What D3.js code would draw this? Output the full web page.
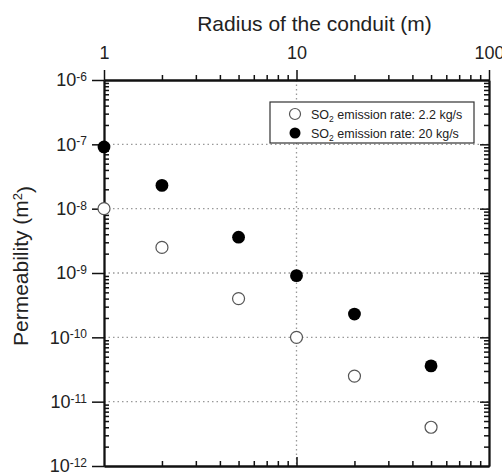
<!DOCTYPE html>
<html>
<head>
<meta charset="utf-8">
<script src="https://cdn.jsdelivr.net/npm/d3@7"></script>
<style>
	body { margin: 0; background: #fff; }
	svg { display: block; font-family: "Liberation Sans", Arial, sans-serif; }
	.domain { stroke: #111; }
</style>
</head>
<body>
<svg id="chart" width="502" height="473"></svg>
<script>
// radius of the conduit (m)
var radius = [1, 2, 5, 10, 20, 50];
// permeability (m^2) for each SO2 emission rate
var perm22 = [1e-8, 2.5e-9, 4e-10, 1e-10, 2.5e-11, 4e-12];
var perm20 = [9.1e-8, 2.3e-8, 3.6e-9, 9.1e-10, 2.3e-10, 3.6e-11];
var seriesNames = ["2.2 kg/s", "20 kg/s"];
var xMajor = [1, 10, 100];
var yMajor = [1e-12, 1e-11, 1e-10, 1e-9, 1e-8, 1e-7, 1e-6];

var svg = d3.select("#chart");
var pLeft = 104, pRight = 489, pTop = 80, pBottom = 466;

var x = d3.scaleLog().domain([1, 100]).range([pLeft, pRight]);
var y = d3.scaleLog().domain([1e-12, 1e-6]).range([pBottom, pTop]);

// minor ticks 2..9 in every decade
function minors(lo, hi) {
	var out = [];
	for (var p = lo; p < hi; p++) {
		for (var k = 2; k <= 9; k++) out.push(k * Math.pow(10, p));
	}
	return out;
}
var xMinor = minors(0, 2);
var yMinor = minors(-12, -6);

// grid
var grid = svg.append("g")
	.attr("stroke", "#999")
	.attr("stroke-width", 1.3)
	.attr("stroke-dasharray", "1.5,3");
grid.selectAll("line.h")
	.data(yMajor.slice(1, -1))
	.enter().append("line")
	.attr("x1", pLeft).attr("x2", pRight)
	.attr("y1", d => y(d)).attr("y2", d => y(d));
grid.append("line")
	.attr("x1", x(10)).attr("x2", x(10))
	.attr("y1", pTop).attr("y2", pBottom);

function styleAxis(g, w) {
	g.select(".domain").attr("stroke-width", w || 1.8);
	g.selectAll(".tick line").attr("stroke", "#111").attr("stroke-width", 1.5);
}

// top axis (labelled)
svg.append("g")
	.attr("transform", "translate(0," + pTop + ")")
	.call(d3.axisTop(x).tickValues(xMinor).tickSize(5).tickSizeOuter(0).tickFormat(""))
	.call(styleAxis);
var topMaj = svg.append("g")
	.attr("transform", "translate(0," + pTop + ")")
	.call(d3.axisTop(x).tickValues(xMajor).tickSize(10).tickSizeOuter(0).tickPadding(11)
		.tickFormat(d3.format("d")))
	.call(styleAxis);
topMaj.attr("font-size", 18).attr("font-family", null);
topMaj.selectAll("text").attr("fill", "#222");

// bottom axis (ticks inward)
svg.append("g")
	.attr("transform", "translate(0," + pBottom + ")")
	.call(d3.axisBottom(x).tickValues(xMinor).tickSize(-5).tickSizeOuter(0).tickFormat(""))
	.call(styleAxis);
svg.append("g")
	.attr("transform", "translate(0," + pBottom + ")")
	.call(d3.axisBottom(x).tickValues([10]).tickSize(-9).tickSizeOuter(0).tickFormat(""))
	.call(styleAxis);

// left axis: minor inward, major outward
svg.append("g")
	.attr("transform", "translate(" + pLeft + ",0)")
	.call(d3.axisLeft(y).tickValues(yMinor).tickSize(-5).tickSizeOuter(0).tickFormat(""))
	.call(styleAxis);
var leftMaj = svg.append("g")
	.attr("transform", "translate(" + pLeft + ",0)")
	.call(d3.axisLeft(y).tickValues(yMajor).tickSize(12).tickSizeOuter(0).tickPadding(5))
	.call(styleAxis);
leftMaj.attr("font-size", 18).attr("font-family", null);
leftMaj.selectAll(".tick text")
	.attr("fill", "#222")
	.each(function(d) {
		var t = d3.select(this);
		t.text(null);
		t.append("tspan").text("10");
		t.append("tspan").attr("dy", "-0.45em").attr("font-size", 12)
			.text(Math.round(Math.log10(d)));
	});

// right axis (ticks inward)
svg.append("g")
	.attr("transform", "translate(" + pRight + ",0)")
	.call(d3.axisRight(y).tickValues(yMinor).tickSize(-5).tickSizeOuter(0).tickFormat(""))
	.call(styleAxis);
svg.append("g")
	.attr("transform", "translate(" + pRight + ",0)")
	.call(d3.axisRight(y).tickValues(yMajor.slice(1, -1)).tickSize(-9).tickSizeOuter(0).tickFormat(""))
	.call(styleAxis);

// axis titles
svg.append("text")
	.attr("x", (pLeft + pRight) / 2 + 18).attr("y", 31)
	.attr("text-anchor", "middle")
	.attr("font-size", 21).attr("fill", "#222")
	.text("Radius of the conduit (m)");

var yt = svg.append("text")
	.attr("transform", "translate(28,266) rotate(-90)")
	.attr("text-anchor", "middle")
	.attr("font-size", 21).attr("fill", "#222");
yt.append("tspan").text("Permeability (m");
yt.append("tspan").attr("dy", "-0.5em").attr("font-size", 13).text("2");
yt.append("tspan").attr("dy", "0.5em").text(")");

// data points
var pts = svg.append("g");
pts.selectAll("circle.open")
	.data(radius.map((r, i) => [r, perm22[i]]))
	.enter().append("circle")
	.attr("cx", d => x(d[0])).attr("cy", d => y(d[1]))
	.attr("r", 6)
	.attr("fill", "#fff").attr("stroke", "#555").attr("stroke-width", 1.2);
pts.selectAll("circle.fill")
	.data(radius.map((r, i) => [r, perm20[i]]))
	.enter().append("circle")
	.attr("cx", d => x(d[0])).attr("cy", d => y(d[1]))
	.attr("r", 6.4)
	.attr("fill", "#000");

// legend
var lg = svg.append("g");
lg.append("rect")
	.attr("x", 270).attr("y", 102).attr("width", 204).attr("height", 41)
	.attr("fill", "#fff").attr("stroke", "#333").attr("stroke-width", 1.2);
seriesNames.forEach(function(name, i) {
	var cy = 114 + i * 19;
	lg.append("circle")
		.attr("cx", 295).attr("cy", cy).attr("r", 5.5)
		.attr("fill", i === 0 ? "#fff" : "#000")
		.attr("stroke", i === 0 ? "#555" : "none").attr("stroke-width", 1.2);
	var t = lg.append("text")
		.attr("x", 311).attr("y", cy + 4.5)
		.attr("font-size", 12.5).attr("fill", "#222");
	t.append("tspan").text("SO");
	t.append("tspan").attr("dy", 3).attr("font-size", 8.5).text("2");
	t.append("tspan").attr("dy", -3).text(" emission rate: " + name);
});
</script>
</body>
</html>
